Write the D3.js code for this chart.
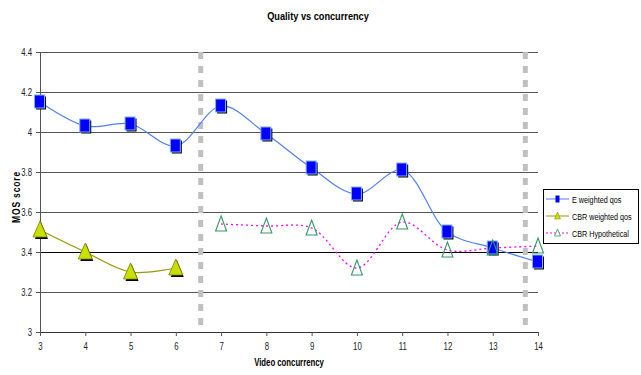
<!DOCTYPE html>
<html>
<head>
<meta charset="utf-8">
<script src="https://cdn.jsdelivr.net/npm/d3@7"></script>
<style>
  body { margin: 0; background: #fff; }
  svg { display: block; font-family: "Liberation Sans", Arial, sans-serif; }
</style>
</head>
<body>
<svg id="chart" width="641" height="375"></svg>
<script>
// Video concurrency levels and mean opinion scores
const concurrency = [3, 4, 5, 6, 7, 8, 9, 10, 11, 12, 13, 14];
const eWeighted = [4.15, 4.03, 4.04, 3.93, 4.13, 3.99, 3.82, 3.69, 3.81, 3.50, 3.42, 3.35];
const cbrX = [3, 4, 5, 6];
const cbrWeighted = [3.51, 3.40, 3.30, 3.32];
const hypoX = [7, 8, 9, 10, 11, 12, 13, 14];
const cbrHypothetical = [3.54, 3.53, 3.52, 3.32, 3.55, 3.41, 3.42, 3.43];
const yTicks = [3, 3.2, 3.4, 3.6, 3.8, 4, 4.2, 4.4];
const dividers = [6.55, 13.72];

const svg = d3.select("#chart");
const plotL = 40, plotR = 538, plotT = 52, plotB = 332;

const x = d3.scaleLinear().domain([3, 14]).range([plotL, plotR]);
const y = d3.scaleLinear().domain([3, 4.4]).range([plotB, plotT]);

// Narrow-face look: squeeze glyphs horizontally
function condense(sel, factor) {
  sel.each(function () {
    const w = this.getComputedTextLength();
    d3.select(this).attr("textLength", w * factor).attr("lengthAdjust", "spacingAndGlyphs");
  });
}

// Title
svg.append("text").attr("transform", "translate(318,20) scale(0.8,1)").attr("text-anchor", "middle")
  .attr("font-size", 11.5).attr("font-weight", "bold").text("Quality vs concurrency");

// Horizontal gridlines
svg.append("g").selectAll("line").data(yTicks.filter(d => d > 3)).join("line")
  .attr("x1", plotL).attr("x2", plotR)
  .attr("y1", d => Math.round(y(d)) + 0.5).attr("y2", d => Math.round(y(d)) + 0.5)
  .attr("stroke", d => d === 3.4 ? "#000" : "#555")
  .attr("stroke-width", 1);

// Vertical dashed dividers
svg.append("g").selectAll("line").data(dividers).join("line")
  .attr("x1", d => x(d)).attr("x2", d => x(d))
  .attr("y1", plotT).attr("y2", plotB)
  .attr("stroke", "#c0c0c0").attr("stroke-width", 5)
  .attr("stroke-dasharray", "7,7");

// Axes
const yAxis = d3.axisLeft(y).tickValues(yTicks).tickSize(4).tickPadding(4).tickFormat(d3.format("~g"));
const gy = svg.append("g").attr("transform", `translate(${plotL},0)`).call(yAxis);
const xAxis = d3.axisBottom(x).tickValues(concurrency).tickSize(4).tickFormat(d3.format("d"));
const gx = svg.append("g").attr("transform", `translate(0,${plotB})`).call(xAxis);
[gx, gy].forEach(g => {
  g.selectAll("path,line").attr("stroke", "#555");
  g.selectAll("text").attr("font-size", 10).attr("fill", "#222")
    .attr("font-family", "'Liberation Sans', Arial, sans-serif");
});
gx.select(".domain").attr("stroke", "#333");
gx.selectAll("text").attr("dy", "1.1em");
gx.selectAll("text").call(condense, 0.78);
gy.selectAll("text").call(condense, 0.78);

// Axis titles
svg.append("text").attr("transform", "translate(289,366) scale(0.74,1)").attr("text-anchor", "middle")
  .attr("font-size", 10.5).attr("font-weight", "bold").text("Video concurrency");
svg.append("text").attr("transform", "translate(20,197) rotate(-90) scale(0.85,1)").attr("text-anchor", "middle")
  .attr("font-size", 10).attr("font-weight", "bold").attr("letter-spacing", 1).text("MOS score");

const smooth = d3.line().curve(d3.curveCatmullRom.alpha(0.5));

// Series lines
svg.append("path").attr("d", smooth(concurrency.map((c, i) => [x(c), y(eWeighted[i])])))
  .attr("fill", "none").attr("stroke", "#4d7fff").attr("stroke-width", 1.2);
svg.append("path").attr("d", smooth(cbrX.map((c, i) => [x(c), y(cbrWeighted[i])])))
  .attr("fill", "none").attr("stroke", "#999900").attr("stroke-width", 1.2);
svg.append("path").attr("d", smooth(hypoX.map((c, i) => [x(c), y(cbrHypothetical[i])])))
  .attr("fill", "none").attr("stroke", "#ff00ff").attr("stroke-width", 1.3)
  .attr("stroke-dasharray", "2,3");

// Markers
function square(g, cx, cy) {
  g.append("rect").attr("x", cx - 4).attr("y", cy - 5.5).attr("width", 10).attr("height", 13).attr("fill", "#000");
  g.append("rect").attr("x", cx - 5.5).attr("y", cy - 7).attr("width", 10).attr("height", 13)
    .attr("fill", "#0000ff").attr("stroke", "#80b0ff").attr("stroke-width", 1);
}
function solidTri(g, cx, cy) {
  g.append("path").attr("d", `M${cx + 1},${cy - 8}L${cx + 8},${cy + 9}L${cx - 5},${cy + 9}Z`).attr("fill", "#000");
  g.append("path").attr("d", `M${cx},${cy - 9}L${cx + 7},${cy + 7}L${cx - 7},${cy + 7}Z`)
    .attr("fill", "#c8e000").attr("stroke", "#808000").attr("stroke-width", 0.8);
}
function hollowTri(g, cx, cy) {
  g.append("path").attr("d", `M${cx},${cy - 8}L${cx + 5.5},${cy + 7}L${cx - 5.5},${cy + 7}Z`)
    .attr("fill", "none").attr("stroke", "#339966").attr("stroke-width", 1.1);
}

const mk = svg.append("g");
cbrX.forEach((c, i) => solidTri(mk, x(c), y(cbrWeighted[i])));
concurrency.forEach((c, i) => square(mk, x(c), y(eWeighted[i])));
hypoX.forEach((c, i) => hollowTri(mk, x(c), y(cbrHypothetical[i])));

// Legend
const lg = svg.append("g");
lg.append("rect").attr("x", 543.5).attr("y", 189.5).attr("width", 95).attr("height", 54)
  .attr("fill", "#fff").attr("stroke", "#000").attr("stroke-width", 1);
const items = [
  { label: "E weighted qos", y: 199, color: "#4d7fff", dash: null, m: "sq" },
  { label: "CBR weighted qos", y: 216, color: "#999900", dash: null, m: "tri" },
  { label: "CBR Hypothetical", y: 233, color: "#ff00ff", dash: "2,2", m: "htri" }
];
items.forEach(it => {
  lg.append("line").attr("x1", 546).attr("x2", 569).attr("y1", it.y).attr("y2", it.y)
    .attr("stroke", it.color).attr("stroke-width", 1).attr("stroke-dasharray", it.dash);
  const cx = 557.5;
  if (it.m === "sq") {
    lg.append("rect").attr("x", cx - 2).attr("y", it.y - 3.5).attr("width", 4).attr("height", 7).attr("fill", "#0000ff");
  } else if (it.m === "tri") {
    lg.append("path").attr("d", `M${cx},${it.y - 4}L${cx + 3},${it.y + 3}L${cx - 3},${it.y + 3}Z`).attr("fill", "#c8e000").attr("stroke", "#808000").attr("stroke-width", 0.5);
  } else {
    lg.append("path").attr("d", `M${cx},${it.y - 4}L${cx + 3},${it.y + 3}L${cx - 3},${it.y + 3}Z`).attr("fill", "#fff").attr("stroke", "#339966").attr("stroke-width", 0.8);
  }
  lg.append("text").attr("transform", `translate(572,${it.y + 3.5}) scale(0.76,1)`)
    .attr("font-size", 9.5).attr("fill", "#000").text(it.label);
});
</script>
</body>
</html>
